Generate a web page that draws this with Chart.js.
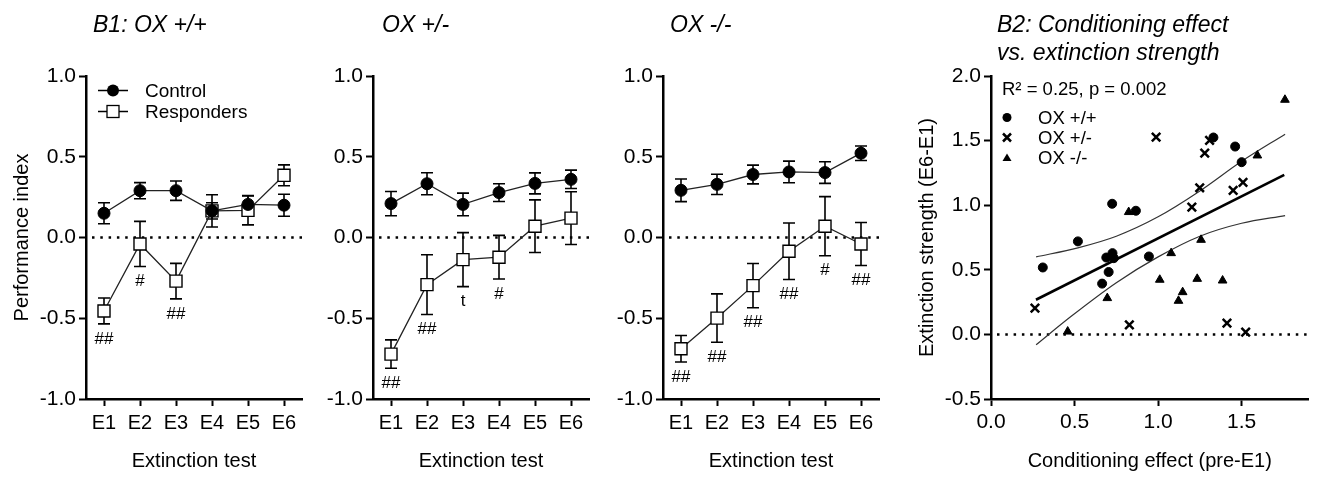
<!DOCTYPE html>
<html><head><meta charset="utf-8">
<script src="https://cdn.jsdelivr.net/npm/chart.js@4.4.1/dist/chart.umd.min.js"></script>
<style>
html,body{margin:0;padding:0;background:#fff;width:1317px;height:479px;overflow:hidden;position:relative}
canvas{position:absolute;top:0}
</style></head><body>
<canvas id="c1" width="315" height="479" style="left:0px"></canvas>
<canvas id="c2" width="290" height="479" style="left:315px"></canvas>
<canvas id="c3" width="290" height="479" style="left:605px"></canvas>
<canvas id="c4" width="422" height="479" style="left:895px"></canvas>
<script>
// ---------- DATA ----------
const categories = ['E1','E2','E3','E4','E5','E6'];

const wtControl    = [0.15, 0.29, 0.29, 0.165, 0.205, 0.20];
const wtControlErr = [0.065, 0.05, 0.06, 0.05, 0.055, 0.068];
const wtResp       = [-0.455, -0.04, -0.27, 0.165, 0.168, 0.385];
const wtRespErr    = [0.08, 0.14, 0.11, 0.10, 0.09, 0.065];
const wtMarks      = ['##','#','##','','',''];

const hetControl    = [0.21, 0.333, 0.205, 0.278, 0.335, 0.36];
const hetControlErr = [0.075, 0.068, 0.07, 0.055, 0.065, 0.057];
const hetResp       = [-0.722, -0.292, -0.137, -0.122, 0.07, 0.12];
const hetRespErr    = [0.088, 0.185, 0.167, 0.135, 0.163, 0.163];
const hetMarks      = ['##','##','t','#','',''];

const koControl    = [0.292, 0.329, 0.39, 0.406, 0.402, 0.522];
const koControlErr = [0.07, 0.063, 0.058, 0.067, 0.067, 0.045];
const koResp       = [-0.689, -0.499, -0.298, -0.085, 0.07, -0.04];
const koRespErr    = [0.082, 0.15, 0.137, 0.175, 0.183, 0.133];
const koMarks      = ['##','##','##','##','#','##'];

const perfTicks = [-1.0, -0.5, 0.0, 0.5, 1.0];

// scatter (x = conditioning effect, y = extinction strength)
const wtX = [0.31, 0.52, 0.665, 0.69, 0.704, 0.727, 0.735, 0.725, 0.867, 0.945, 1.331, 1.461, 1.50];
const wtY = [0.518, 0.72, 0.393, 0.595, 0.483, 0.629, 0.59, 1.011, 0.957, 0.603, 1.524, 1.454, 1.333];
const hetX = [0.263, 0.828, 0.988, 1.308, 1.279, 1.249, 1.202, 1.449, 1.508, 1.412, 1.524];
const hetY = [0.203, 0.074, 1.527, 1.501, 1.403, 1.135, 0.985, 1.114, 1.176, 0.087, 0.018];
const koX = [1.759, 1.594, 0.824, 1.257, 1.078, 1.01, 1.234, 1.386, 1.147, 1.122, 0.696, 0.459];
const koY = [1.816, 1.385, 0.947, 0.732, 0.629, 0.423, 0.43, 0.417, 0.327, 0.26, 0.281, 0.022];
const fitX = [0.269, 1.755];
const fitY = [0.268, 1.235];
const ciUpperX = [0.27, 0.52, 0.75, 1.0, 1.25, 1.5, 1.76];
const ciUpperY = [0.60, 0.67, 0.76, 0.91, 1.11, 1.34, 1.55];
const ciLowerX = [0.27, 0.48, 0.75, 1.0, 1.25, 1.5, 1.76];
const ciLowerY = [-0.08, 0.14, 0.40, 0.60, 0.76, 0.86, 0.92];
const condTicks = [0.0, 0.5, 1.0, 1.5];
const extTicks = [-0.5, 0.0, 0.5, 1.0, 1.5, 2.0];

// ---------- HELPERS ----------
const FONT = "'Liberation Sans', Arial, Helvetica, sans-serif";
Chart.defaults.font.family = FONT;
Chart.defaults.color = '#000';
const pts = (xs, ys) => xs.map((x, i) => ({x, y: ys[i]}));

function textPlugin(items){
  return { id:'txt', afterDraw(chart){
    const c = chart.ctx;
    items.forEach(t => { c.save(); c.font = t.font; c.fillStyle = '#000';
      c.textAlign = t.align || 'left'; c.textBaseline = 'alphabetic';
      c.fillText(t.text, t.x, t.y); c.restore(); });
  }};
}
const zeroLine = { id:'zero', beforeDatasetsDraw(chart){
  const {ctx, chartArea:a, scales:{y}} = chart; const py = y.getPixelForValue(0);
  ctx.save(); ctx.strokeStyle = '#000'; ctx.lineWidth = 2.5; ctx.setLineDash([2.5, 5.8]);
  ctx.beginPath(); ctx.moveTo(a.left + 6, py); ctx.lineTo(a.right, py); ctx.stroke(); ctx.restore();
}};
const errorBars = { id:'errbars', beforeDatasetsDraw(chart){
  const {ctx, scales:{y}} = chart;
  chart.data.datasets.forEach((ds, i) => {
    if (!ds.errors) return;
    chart.getDatasetMeta(i).data.forEach((pt, j) => {
      const v = ds.data[j], e = ds.errors[j];
      const yt = y.getPixelForValue(v + e), yb = y.getPixelForValue(v - e);
      ctx.save(); ctx.strokeStyle = '#000'; ctx.lineWidth = 1.6; ctx.beginPath();
      ctx.moveTo(pt.x, yt); ctx.lineTo(pt.x, yb);
      ctx.moveTo(pt.x - 6, yt); ctx.lineTo(pt.x + 6, yt);
      ctx.moveTo(pt.x - 6, yb); ctx.lineTo(pt.x + 6, yb);
      ctx.stroke(); ctx.restore();
    });
  });
}};
const sigMarks = { id:'sig', afterDatasetsDraw(chart){
  const {ctx, scales:{y}} = chart;
  chart.data.datasets.forEach((ds, i) => {
    if (!ds.marks) return;
    chart.getDatasetMeta(i).data.forEach((pt, j) => {
      const m = ds.marks[j]; if (!m) return;
      const yb = y.getPixelForValue(ds.data[j] - ds.errors[j]);
      ctx.save(); ctx.font = '17px ' + FONT; ctx.fillStyle = '#000';
      ctx.textAlign = 'center'; ctx.textBaseline = 'middle';
      ctx.fillText(m, pt.x, yb + 15); ctx.restore();
    });
  });
}};
const lineLegend = { id:'lleg', afterDraw(chart){
  const c = chart.ctx;
  c.save(); c.strokeStyle = '#000'; c.lineWidth = 1.3;
  c.beginPath(); c.moveTo(98, 90.5); c.lineTo(128, 90.5); c.moveTo(98, 111.5); c.lineTo(128, 111.5); c.stroke();
  c.fillStyle = '#000'; c.beginPath(); c.arc(113, 90.5, 6, 0, Math.PI*2); c.fill();
  c.fillStyle = '#fff'; c.fillRect(107, 105.5, 12, 12); c.strokeRect(107, 105.5, 12, 12);
  c.fillStyle = '#000'; c.font = '19px ' + FONT; c.textBaseline = 'alphabetic';
  c.fillText('Control', 145, 97); c.fillText('Responders', 145, 118);
  c.restore();
}};

function catX(){
  return { type:'category', labels:categories, offset:true,
    ticks:{font:{size:20}, color:'#000', padding:5, maxRotation:0, autoSkip:false},
    grid:{display:true, drawOnChartArea:false, drawTicks:true, tickLength:7, tickWidth:2, tickColor:'#000', offset:false},
    border:{display:true, color:'#000', width:2.5},
    title:{display:true, text:'Extinction test', font:{size:20}, color:'#000', padding:{top:0, bottom:6}},
    afterFit(s){ s.height = 80; } };
}
function linY(min, max, width, tickVals, titleText, titlePad){
  return { type:'linear', min, max,
    ticks:{stepSize:0.5, padding:3, font:{size:21}, color:'#000', callback:v => Number(v).toFixed(1)},
    afterBuildTicks(s){ s.ticks = tickVals.map(v => ({value:v})); },
    grid:{display:true, drawOnChartArea:false, drawTicks:true, tickLength:7, tickWidth:2, tickColor:'#000'},
    border:{display:true, color:'#000', width:2.5},
    title: titleText ? {display:true, text:titleText, font:{size:20}, color:'#000', padding:{top:titlePad, bottom:0}} : {display:false},
    afterFit(s){ s.width = width; } };
}

function perfChart(id, yW, padR, titleText, titleX, ctrl, ctrlErr, resp, respErr, marks, yTitle, extra){
  const plugins = [zeroLine, errorBars, sigMarks,
    textPlugin([{text:titleText, x:titleX, y:31.5, font:'italic 23px ' + FONT}])];
  if (extra) plugins.push(extra);
  return new Chart(document.getElementById(id), {
    type:'line',
    data:{ labels:categories, datasets:[
      { label:'Control', data:ctrl, errors:ctrlErr, borderColor:'#222', borderWidth:1.3,
        pointStyle:'circle', pointRadius:6, pointBackgroundColor:'#000', pointBorderColor:'#000', pointBorderWidth:1, tension:0 },
      { label:'Responders', data:resp, errors:respErr, marks:marks, borderColor:'#222', borderWidth:1.3,
        pointStyle:'rect', pointRadius:8.5, pointBackgroundColor:'#fff', pointBorderColor:'#000', pointBorderWidth:1.4, tension:0 }
    ]},
    options:{ responsive:false, animation:false, devicePixelRatio:1,
      layout:{padding:{left:0, right:padR, top:76, bottom:0}},
      plugins:{legend:{display:false}, tooltip:{enabled:false}, title:{display:false}},
      scales:{ x:catX(), y:linY(-1, 1, yW, perfTicks, yTitle, 10) } },
    plugins
  });
}

perfChart('c1', 86, 13, 'B1: OX +/+', 93, wtControl, wtControlErr, wtResp, wtRespErr, wtMarks, 'Performance index', lineLegend);
perfChart('c2', 58, 16, 'OX +/-', 67, hetControl, hetControlErr, hetResp, hetRespErr, hetMarks, null, null);
perfChart('c3', 58, 16, 'OX -/-', 65, koControl, koControlErr, koResp, koRespErr, koMarks, null, null);

// scatter legend
const scatLegend = { id:'sleg', afterDraw(chart){
  const c = chart.ctx; c.save(); c.fillStyle = '#000'; c.strokeStyle = '#000';
  c.beginPath(); c.arc(112, 117.5, 4.5, 0, Math.PI*2); c.fill();
  c.lineWidth = 2.5; c.beginPath(); c.moveTo(108, 133.5); c.lineTo(116, 141.5); c.moveTo(116, 133.5); c.lineTo(108, 141.5); c.stroke();
  c.beginPath(); c.moveTo(112, 153.5); c.lineTo(116.5, 161); c.lineTo(107.5, 161); c.closePath(); c.fill();
  c.restore();
}};

new Chart(document.getElementById('c4'), {
  type:'scatter',
  data:{ datasets:[
    { label:'OX +/+', data:pts(wtX, wtY), pointStyle:'circle', pointRadius:4.5, backgroundColor:'#000', borderColor:'#000', borderWidth:1 },
    { label:'OX +/-', data:pts(hetX, hetY), pointStyle:'crossRot', pointRadius:6, backgroundColor:'#000', borderColor:'#000', borderWidth:2.5 },
    { label:'OX -/-', data:pts(koX, koY), pointStyle:'triangle', pointRadius:5, backgroundColor:'#000', borderColor:'#000', borderWidth:1 },
    { type:'line', label:'fit', data:pts(fitX, fitY), showLine:true, borderColor:'#000', borderWidth:2.6, pointRadius:0, fill:false },
    { type:'line', label:'ci upper', data:pts(ciUpperX, ciUpperY), showLine:true, borderColor:'#333', borderWidth:1.2, pointRadius:0, cubicInterpolationMode:'monotone', fill:false },
    { type:'line', label:'ci lower', data:pts(ciLowerX, ciLowerY), showLine:true, borderColor:'#333', borderWidth:1.2, pointRadius:0, cubicInterpolationMode:'monotone', fill:false }
  ]},
  options:{ responsive:false, animation:false, devicePixelRatio:1,
    layout:{padding:{left:0, right:4, top:76, bottom:0}},
    plugins:{legend:{display:false}, tooltip:{enabled:false}, title:{display:false}},
    scales:{
      x:{ type:'linear', min:0, max:1.9,
        ticks:{stepSize:0.5, padding:4, font:{size:21}, color:'#000', callback:v => Number(v).toFixed(1)},
        afterBuildTicks(s){ s.ticks = condTicks.map(v => ({value:v})); },
        grid:{display:true, drawOnChartArea:false, drawTicks:true, tickLength:7, tickWidth:2, tickColor:'#000'},
        border:{display:true, color:'#000', width:2.5},
        title:{display:true, text:'Conditioning effect (pre-E1)', font:{size:20}, color:'#000', padding:{top:0, bottom:6}},
        afterFit(s){ s.height = 80; } },
      y: linY(-0.5, 2.0, 96, extTicks, 'Extinction strength (E6-E1)', 20)
    } },
  plugins:[zeroLine, scatLegend, textPlugin([
    {text:'B2: Conditioning effect', x:102, y:32, font:'italic 23px ' + FONT},
    {text:'vs. extinction strength', x:102, y:59.5, font:'italic 23px ' + FONT},
    {text:'R\u00B2 = 0.25, p = 0.002', x:107, y:95, font:'18.5px ' + FONT},
    {text:'OX +/+', x:143, y:124, font:'18.5px ' + FONT},
    {text:'OX +/-', x:143, y:144, font:'18.5px ' + FONT},
    {text:'OX -/-', x:143, y:164, font:'18.5px ' + FONT}
  ])]
});
</script>
</body></html>
